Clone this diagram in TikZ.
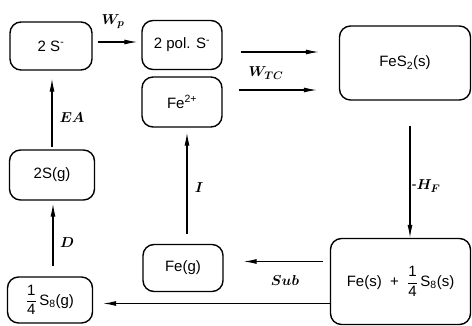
\documentclass[tikz,border=0pt]{standalone}
\usepackage{amsmath}
\usepackage{fontspec}
\setmainfont{Liberation Sans}
\usetikzlibrary{arrows.meta,calc}
\newcommand{\qfrac}{$\displaystyle\frac{\mbox{1}}{\mbox{4}}$}
\begin{document}
\begin{tikzpicture}[x=1pt,y=-1pt,
  box/.style={draw,line width=1.4pt,rounded corners=11pt,align=center,font=\fontsize{15}{17}\selectfont,inner sep=0pt},
  arr/.style={line width=1.1pt,-{Latex[length=13pt,width=5pt]}},
  lbl/.style={font=\boldmath\fontsize{15}{17}\selectfont,inner sep=0pt}]
\useasboundingbox (0,0) rectangle (472,326);
\node[box,minimum width=82pt,minimum height=48pt] (s2m) at (51,46) {2 S\textsuperscript{-}};
\node[box,minimum width=80pt,minimum height=49pt] (pol) at (182,45) {2 pol. S\textsuperscript{-}};
\node[box,minimum width=80pt,minimum height=50pt] (fe2) at (182,102) {Fe\textsuperscript{2+}};
\node[box,minimum width=131pt,minimum height=74pt] (fes2) at (405,63) {FeS\textsubscript{2}(s)};
\node[box,minimum width=85pt,minimum height=50pt] (s2g) at (52,175) {2S(g)};
\node[box,minimum width=85pt,minimum height=46pt] (s8g) at (50,300) {\qfrac\,S\textsubscript{8}(g)};
\node[box,minimum width=80pt,minimum height=47pt] (feg) at (183,268) {Fe(g)};
\node[box,minimum width=140pt,minimum height=86pt] (fes) at (400.5,281.5) {Fe(s) \;+\; \qfrac\,S\textsubscript{8}(s)};
% arrows
\draw[arr,shorten <=5pt,shorten >=4pt] ([yshift=4pt]s2m.east) -- ([yshift=4pt]s2m.east -| pol.west);
\node[lbl] (lwp) at (113,22) {$W_p$};
\draw[arr,shorten <=18pt,shorten >=20pt] ([yshift=-7pt]pol.east) -- ([yshift=-7pt]pol.east -| fes2.west);
\draw[arr,shorten <=16pt,shorten >=22pt] ([yshift=12pt]fe2.east) -- ([yshift=12pt]fe2.east -| fes2.west);
\node[lbl] (lwtc) at (266,73) {$W_{TC}$};
\draw[arr,shorten <=25pt] ([xshift=5pt]fes2.south) -- ([xshift=5pt]fes2.south |- fes.north);
\node[lbl] (lhf) at (426,186) {-$H_F$};
\draw[arr,shorten <=7pt,shorten >=20pt] ([yshift=20pt]fes.west) -- ([yshift=20pt]fes.west -| feg.east);
\node[lbl] (lsub) at (285,281) {$Sub$};
\draw[arr,shorten >=10pt] ([yshift=-22pt]fes.west) -- ([yshift=-22pt]fes.west -| s8g.east);
\draw[arr,shorten <=10pt,shorten >=5pt] ([xshift=4pt]feg.north) -- ([xshift=4pt]feg.north |- fe2.south);
\node[lbl] (li) at (199,188) {$I$};
\draw[arr,shorten <=10pt,shorten >=3pt] ([xshift=3pt]s8g.north) -- ([xshift=3pt]s8g.north |- s2g.south);
\node[lbl] (ld) at (67,243) {$D$};
\draw[arr,shorten <=2pt,shorten >=8pt] (s2g.north) -- (s2g.north |- s2m.south);
\node[lbl] (lea) at (72,118) {$EA$};
\end{tikzpicture}
\end{document}
